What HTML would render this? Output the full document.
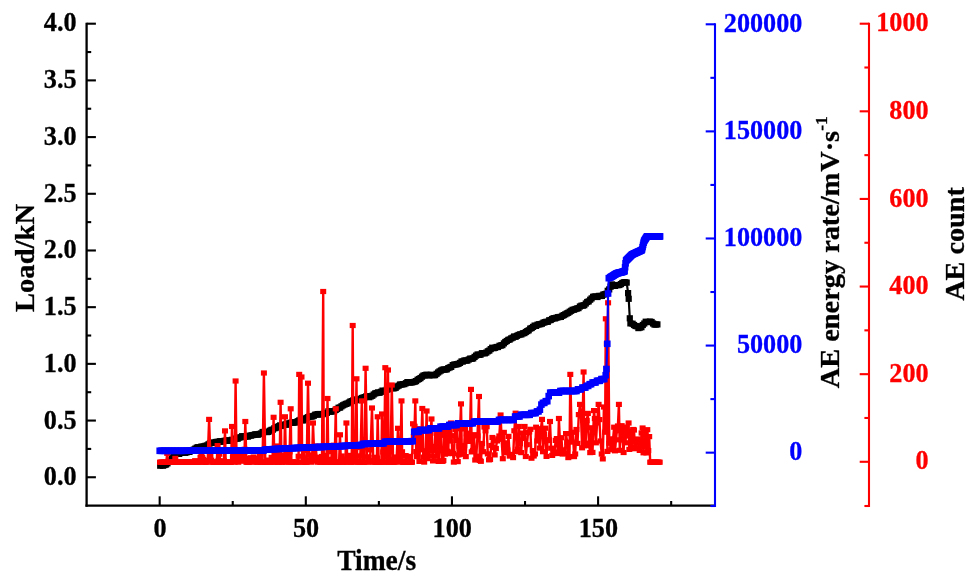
<!DOCTYPE html>
<html><head><meta charset="utf-8"><title>Load / AE energy rate / AE count vs Time</title>
<style>html,body{margin:0;padding:0;background:#fff}svg{display:block;will-change:transform}text{font-family:"Liberation Serif","Times New Roman",serif;font-weight:bold}</style></head><body>
<svg width="969" height="578" viewBox="0 0 969 578">
<rect width="969" height="578" fill="#fff"/>
<defs>
<marker id="mk" markerUnits="userSpaceOnUse" markerWidth="8" markerHeight="8" refX="4" refY="4"><rect x="0.90" y="0.90" width="6.2" height="6.2" fill="#000"/></marker>
<marker id="mr" markerUnits="userSpaceOnUse" markerWidth="8" markerHeight="8" refX="4" refY="4"><rect x="1.00" y="1.40" width="6.0" height="5.2" fill="#f00"/></marker>
<marker id="mb" markerUnits="userSpaceOnUse" markerWidth="8" markerHeight="8" refX="4" refY="4"><rect x="0.70" y="0.70" width="6.6" height="6.6" fill="#00f"/></marker>
</defs>
<g><line x1="86.60" y1="22.65" x2="86.60" y2="506.65" stroke="#000" stroke-width="2.3"/><line x1="86.60" y1="477.25" x2="95.90" y2="477.25" stroke="#000" stroke-width="2.1"/><line x1="86.60" y1="448.91" x2="91.20" y2="448.91" stroke="#000" stroke-width="2.1"/><line x1="86.60" y1="420.56" x2="95.90" y2="420.56" stroke="#000" stroke-width="2.1"/><line x1="86.60" y1="392.21" x2="91.20" y2="392.21" stroke="#000" stroke-width="2.1"/><line x1="86.60" y1="363.86" x2="95.90" y2="363.86" stroke="#000" stroke-width="2.1"/><line x1="86.60" y1="335.52" x2="91.20" y2="335.52" stroke="#000" stroke-width="2.1"/><line x1="86.60" y1="307.17" x2="95.90" y2="307.17" stroke="#000" stroke-width="2.1"/><line x1="86.60" y1="278.82" x2="91.20" y2="278.82" stroke="#000" stroke-width="2.1"/><line x1="86.60" y1="250.48" x2="95.90" y2="250.48" stroke="#000" stroke-width="2.1"/><line x1="86.60" y1="222.13" x2="91.20" y2="222.13" stroke="#000" stroke-width="2.1"/><line x1="86.60" y1="193.78" x2="95.90" y2="193.78" stroke="#000" stroke-width="2.1"/><line x1="86.60" y1="165.44" x2="91.20" y2="165.44" stroke="#000" stroke-width="2.1"/><line x1="86.60" y1="137.09" x2="95.90" y2="137.09" stroke="#000" stroke-width="2.1"/><line x1="86.60" y1="108.74" x2="91.20" y2="108.74" stroke="#000" stroke-width="2.1"/><line x1="86.60" y1="80.39" x2="95.90" y2="80.39" stroke="#000" stroke-width="2.1"/><line x1="86.60" y1="52.05" x2="91.20" y2="52.05" stroke="#000" stroke-width="2.1"/><line x1="86.60" y1="23.70" x2="95.90" y2="23.70" stroke="#000" stroke-width="2.1"/><line x1="85.50" y1="505.60" x2="715.00" y2="505.60" stroke="#000" stroke-width="2.1"/><line x1="159.67" y1="505.60" x2="159.67" y2="496.30" stroke="#000" stroke-width="2.1"/><line x1="232.74" y1="505.60" x2="232.74" y2="501.00" stroke="#000" stroke-width="2.1"/><line x1="305.81" y1="505.60" x2="305.81" y2="496.30" stroke="#000" stroke-width="2.1"/><line x1="378.88" y1="505.60" x2="378.88" y2="501.00" stroke="#000" stroke-width="2.1"/><line x1="451.95" y1="505.60" x2="451.95" y2="496.30" stroke="#000" stroke-width="2.1"/><line x1="525.02" y1="505.60" x2="525.02" y2="501.00" stroke="#000" stroke-width="2.1"/><line x1="598.09" y1="505.60" x2="598.09" y2="496.30" stroke="#000" stroke-width="2.1"/><line x1="671.16" y1="505.60" x2="671.16" y2="501.00" stroke="#000" stroke-width="2.1"/><line x1="715.00" y1="23.25" x2="715.00" y2="507.05" stroke="#00f" stroke-width="2.1"/><line x1="715.00" y1="506.00" x2="710.40" y2="506.00" stroke="#00f" stroke-width="2.1"/><line x1="715.00" y1="452.66" x2="705.70" y2="452.66" stroke="#00f" stroke-width="2.1"/><line x1="715.00" y1="399.11" x2="710.40" y2="399.11" stroke="#00f" stroke-width="2.1"/><line x1="715.00" y1="345.57" x2="705.70" y2="345.57" stroke="#00f" stroke-width="2.1"/><line x1="715.00" y1="292.02" x2="710.40" y2="292.02" stroke="#00f" stroke-width="2.1"/><line x1="715.00" y1="238.48" x2="705.70" y2="238.48" stroke="#00f" stroke-width="2.1"/><line x1="715.00" y1="184.93" x2="710.40" y2="184.93" stroke="#00f" stroke-width="2.1"/><line x1="715.00" y1="131.39" x2="705.70" y2="131.39" stroke="#00f" stroke-width="2.1"/><line x1="715.00" y1="77.84" x2="710.40" y2="77.84" stroke="#00f" stroke-width="2.1"/><line x1="715.00" y1="24.30" x2="705.70" y2="24.30" stroke="#00f" stroke-width="2.1"/><line x1="869.00" y1="22.65" x2="869.00" y2="507.05" stroke="#f00" stroke-width="2.1"/><line x1="869.00" y1="506.00" x2="864.40" y2="506.00" stroke="#f00" stroke-width="2.1"/><line x1="869.00" y1="461.79" x2="859.70" y2="461.79" stroke="#f00" stroke-width="2.1"/><line x1="869.00" y1="417.98" x2="864.40" y2="417.98" stroke="#f00" stroke-width="2.1"/><line x1="869.00" y1="374.17" x2="859.70" y2="374.17" stroke="#f00" stroke-width="2.1"/><line x1="869.00" y1="330.36" x2="864.40" y2="330.36" stroke="#f00" stroke-width="2.1"/><line x1="869.00" y1="286.55" x2="859.70" y2="286.55" stroke="#f00" stroke-width="2.1"/><line x1="869.00" y1="242.75" x2="864.40" y2="242.75" stroke="#f00" stroke-width="2.1"/><line x1="869.00" y1="198.94" x2="859.70" y2="198.94" stroke="#f00" stroke-width="2.1"/><line x1="869.00" y1="155.13" x2="864.40" y2="155.13" stroke="#f00" stroke-width="2.1"/><line x1="869.00" y1="111.32" x2="859.70" y2="111.32" stroke="#f00" stroke-width="2.1"/><line x1="869.00" y1="67.51" x2="864.40" y2="67.51" stroke="#f00" stroke-width="2.1"/><line x1="869.00" y1="23.70" x2="859.70" y2="23.70" stroke="#f00" stroke-width="2.1"/></g>
<text transform="translate(76.60,485.25) scale(1,1.06)" text-anchor="end" font-size="26.2" fill="#000" stroke="#000" stroke-width="0.3">0.0</text><text transform="translate(76.60,428.56) scale(1,1.06)" text-anchor="end" font-size="26.2" fill="#000" stroke="#000" stroke-width="0.3">0.5</text><text transform="translate(76.60,371.86) scale(1,1.06)" text-anchor="end" font-size="26.2" fill="#000" stroke="#000" stroke-width="0.3">1.0</text><text transform="translate(76.60,315.17) scale(1,1.06)" text-anchor="end" font-size="26.2" fill="#000" stroke="#000" stroke-width="0.3">1.5</text><text transform="translate(76.60,258.48) scale(1,1.06)" text-anchor="end" font-size="26.2" fill="#000" stroke="#000" stroke-width="0.3">2.0</text><text transform="translate(76.60,201.78) scale(1,1.06)" text-anchor="end" font-size="26.2" fill="#000" stroke="#000" stroke-width="0.3">2.5</text><text transform="translate(76.60,145.09) scale(1,1.06)" text-anchor="end" font-size="26.2" fill="#000" stroke="#000" stroke-width="0.3">3.0</text><text transform="translate(76.60,88.39) scale(1,1.06)" text-anchor="end" font-size="26.2" fill="#000" stroke="#000" stroke-width="0.3">3.5</text><text transform="translate(76.60,30.90) scale(1,1.06)" text-anchor="end" font-size="26.2" fill="#000" stroke="#000" stroke-width="0.3">4.0</text><text transform="translate(159.97,537.20) scale(1,1.06)" text-anchor="middle" font-size="26.2" fill="#000" stroke="#000" stroke-width="0.3">0</text><text transform="translate(306.11,537.20) scale(1,1.06)" text-anchor="middle" font-size="26.2" fill="#000" stroke="#000" stroke-width="0.3">50</text><text transform="translate(452.25,537.20) scale(1,1.06)" text-anchor="middle" font-size="26.2" fill="#000" stroke="#000" stroke-width="0.3">100</text><text transform="translate(598.39,537.20) scale(1,1.06)" text-anchor="middle" font-size="26.2" fill="#000" stroke="#000" stroke-width="0.3">150</text><text transform="translate(802.40,460.26) scale(1,1.06)" text-anchor="end" font-size="26.2" fill="#00f" stroke="#00f" stroke-width="0.3">0</text><text transform="translate(802.40,353.17) scale(1,1.06)" text-anchor="end" font-size="26.2" fill="#00f" stroke="#00f" stroke-width="0.3">50000</text><text transform="translate(802.40,246.08) scale(1,1.06)" text-anchor="end" font-size="26.2" fill="#00f" stroke="#00f" stroke-width="0.3">100000</text><text transform="translate(802.40,138.99) scale(1,1.06)" text-anchor="end" font-size="26.2" fill="#00f" stroke="#00f" stroke-width="0.3">150000</text><text transform="translate(802.40,31.90) scale(1,1.06)" text-anchor="end" font-size="26.2" fill="#00f" stroke="#00f" stroke-width="0.3">200000</text><text transform="translate(928.60,469.39) scale(1,1.06)" text-anchor="end" font-size="26.2" fill="#f00" stroke="#f00" stroke-width="0.3">0</text><text transform="translate(928.60,381.77) scale(1,1.06)" text-anchor="end" font-size="26.2" fill="#f00" stroke="#f00" stroke-width="0.3">200</text><text transform="translate(928.60,294.15) scale(1,1.06)" text-anchor="end" font-size="26.2" fill="#f00" stroke="#f00" stroke-width="0.3">400</text><text transform="translate(928.60,206.54) scale(1,1.06)" text-anchor="end" font-size="26.2" fill="#f00" stroke="#f00" stroke-width="0.3">600</text><text transform="translate(928.60,118.92) scale(1,1.06)" text-anchor="end" font-size="26.2" fill="#f00" stroke="#f00" stroke-width="0.3">800</text><text transform="translate(928.60,31.30) scale(1,1.06)" text-anchor="end" font-size="26.2" fill="#f00" stroke="#f00" stroke-width="0.3">1000</text><text transform="translate(376.7,570.4) scale(1,1.07)" text-anchor="middle" font-size="27.5" stroke="#000" stroke-width="0.3">Time/s</text><text transform="translate(34.4,258) rotate(-90) scale(1.04,1)" text-anchor="middle" font-size="27.5" stroke="#000" stroke-width="0.3">Load/kN</text><text transform="translate(839.2,252.2) rotate(-90) scale(1.03,1)" text-anchor="middle" font-size="27.5" stroke="#000" stroke-width="0.3">AE energy rate/m<tspan dx="0.9">V</tspan>·s<tspan dy="-12" font-size="17">-1</tspan></text><text transform="translate(963.5,244.0) rotate(-90) scale(1.025,1.02)" text-anchor="middle" font-size="27.5" stroke="#000" stroke-width="0.3">AE count</text>
<polyline points="160.2,465.7 161.7,465.1 163.1,465.7 164.6,465.0 166.1,464.5 167.5,463.3 169.0,461.5 170.4,460.6 171.9,458.1 173.4,456.6 174.8,454.3 176.3,453.4 177.8,453.4 179.2,453.9 180.7,452.9 182.1,452.2 183.6,452.3 185.1,452.8 186.5,452.4 188.0,451.6 189.5,451.9 190.9,450.4 192.4,450.6 193.8,449.6 195.3,448.6 196.8,447.6 198.2,447.2 199.7,447.6 201.2,446.7 202.6,446.6 204.1,446.5 205.5,445.8 207.0,445.5 208.5,444.3 209.9,443.3 211.4,442.7 212.9,443.0 214.3,442.6 215.8,442.0 217.2,441.9 218.7,441.7 220.2,441.2 221.6,441.6 223.1,441.6 224.6,440.8 226.0,440.7 227.5,440.4 228.9,440.8 230.4,440.7 231.9,439.8 233.3,440.3 234.8,439.0 236.3,438.5 237.7,438.7 239.2,437.6 240.6,437.3 242.1,436.2 243.6,436.4 245.0,436.7 246.5,436.4 248.0,436.6 249.4,435.7 250.9,435.6 252.3,435.2 253.8,434.9 255.3,434.3 256.7,434.5 258.2,434.7 259.7,433.9 261.1,433.5 262.6,432.0 264.0,432.0 265.5,431.8 267.0,432.1 268.4,431.9 269.9,430.7 271.4,429.9 272.8,429.7 274.3,428.3 275.7,428.0 277.2,427.1 278.7,426.2 280.1,425.4 281.6,426.0 283.0,425.1 284.5,424.6 286.0,424.4 287.4,424.7 288.9,423.4 290.4,422.9 291.8,422.5 293.3,422.7 294.7,422.4 296.2,422.4 297.7,421.2 299.1,420.5 300.6,419.8 302.1,420.2 303.5,420.4 305.0,419.0 306.4,418.0 307.9,417.2 309.4,416.6 310.8,416.5 312.3,416.5 313.8,415.8 315.2,414.7 316.7,414.5 318.1,414.1 319.6,414.0 321.1,414.5 322.5,414.3 324.0,413.6 325.5,413.2 326.9,412.8 328.4,411.3 329.8,411.6 331.3,411.5 332.8,411.4 334.2,411.1 335.7,409.9 337.2,409.0 338.6,407.7 340.1,407.6 341.5,406.3 343.0,405.3 344.5,404.6 345.9,403.9 347.4,403.5 348.9,402.6 350.3,401.6 351.8,401.1 353.2,400.4 354.7,400.3 356.2,399.4 357.6,400.1 359.1,400.0 360.6,398.8 362.0,398.0 363.5,397.5 364.9,397.1 366.4,396.2 367.9,396.7 369.3,397.2 370.8,396.4 372.3,395.8 373.7,394.5 375.2,393.4 376.6,393.0 378.1,392.4 379.6,392.8 381.0,391.8 382.5,390.6 384.0,391.2 385.4,390.8 386.9,389.6 388.3,389.3 389.8,388.0 391.3,387.8 392.7,388.3 394.2,388.3 395.7,387.8 397.1,386.5 398.6,385.7 400.0,384.5 401.5,384.6 403.0,384.2 404.4,384.1 405.9,383.2 407.4,382.1 408.8,382.3 410.3,382.6 411.7,382.4 413.2,382.1 414.7,381.7 416.1,381.1 417.6,379.7 419.1,379.0 420.5,378.1 422.0,376.7 423.4,375.6 424.9,375.2 426.4,374.7 427.8,375.0 429.3,375.5 430.8,374.8 432.2,375.0 433.7,375.2 435.1,375.1 436.6,373.8 438.1,372.5 439.5,371.4 441.0,370.5 442.5,369.7 443.9,369.5 445.4,369.6 446.8,369.3 448.3,368.1 449.8,367.4 451.2,366.9 452.7,365.1 454.2,364.6 455.6,364.5 457.1,364.2 458.5,363.8 460.0,362.9 461.5,361.5 462.9,361.5 464.4,360.5 465.9,360.5 467.3,360.6 468.8,359.5 470.2,358.6 471.7,358.8 473.2,358.4 474.6,356.9 476.1,355.6 477.6,354.5 479.0,354.9 480.5,354.7 481.9,353.2 483.4,353.2 484.9,353.3 486.3,352.6 487.8,351.3 489.3,350.6 490.7,349.1 492.2,347.7 493.6,348.2 495.1,347.8 496.6,347.0 498.0,347.0 499.5,345.8 501.0,345.5 502.4,345.1 503.9,343.4 505.3,342.0 506.8,341.0 508.3,339.9 509.7,339.5 511.2,338.4 512.7,337.7 514.1,336.5 515.6,336.8 517.0,335.8 518.5,335.0 520.0,334.4 521.4,334.4 522.9,333.3 524.4,333.1 525.8,332.0 527.3,331.1 528.7,330.3 530.2,328.6 531.7,328.0 533.1,326.9 534.6,325.6 536.1,325.9 537.5,324.7 539.0,324.3 540.4,324.2 541.9,323.7 543.4,322.7 544.8,322.2 546.3,321.8 547.8,321.8 549.2,320.3 550.7,320.0 552.1,319.0 553.6,318.2 555.1,318.4 556.5,317.7 558.0,317.2 559.5,317.0 560.9,316.9 562.4,315.8 563.8,315.1 565.3,314.3 566.8,313.4 568.2,312.8 569.7,311.7 571.2,310.8 572.6,309.8 574.1,309.7 575.5,309.0 577.0,308.5 578.5,308.1 579.9,306.5 581.4,305.7 582.9,305.6 584.3,305.2 585.8,303.5 587.2,302.0 588.7,301.4 590.2,299.7 591.6,298.4 593.1,296.8 594.6,296.5 596.0,296.6 597.5,297.0 598.9,295.9 600.4,296.0 601.9,295.9 603.3,294.6 604.8,294.2 606.3,293.8 607.7,290.8 609.2,289.4 610.6,286.7 612.1,284.4 613.6,285.4 615.0,285.9 616.5,285.1 618.0,285.1 619.4,285.0 620.9,284.1 622.3,283.0 623.8,282.3 625.3,282.3 626.7,282.6 628.1,293.1 628.7,298.8 629.8,318.3 630.4,323.4 632.6,323.7 634.0,325.0 635.5,326.0 637.0,326.2 638.4,328.1 639.9,327.5 641.4,327.2 642.8,325.0 644.3,323.5 645.7,321.7 647.2,322.1 648.7,321.9 650.1,321.6 651.6,322.0 653.1,323.5 654.5,324.6 656.0,324.5 657.4,324.4" fill="none" stroke="#000" stroke-width="2.2" marker-start="url(#mk)" marker-mid="url(#mk)" marker-end="url(#mk)"/>
<polyline points="160.0,462.2 160.9,462.2 161.8,462.2 162.7,462.2 163.6,462.2 164.5,462.2 165.4,462.2 166.3,462.2 167.2,453.3 168.1,462.2 169.0,462.2 169.9,462.2 170.8,462.2 171.7,462.2 172.6,462.2 173.5,462.2 174.4,462.2 175.3,458.4 176.2,462.2 177.1,462.2 178.0,462.2 178.9,462.2 179.8,462.2 180.7,462.2 181.6,462.2 182.5,462.2 183.4,462.2 184.3,462.2 185.2,462.2 186.1,462.2 187.0,462.2 187.9,462.2 188.8,462.2 189.7,462.2 190.6,462.2 191.5,462.2 192.4,462.2 193.3,462.2 194.2,462.2 195.1,460.7 196.0,462.2 196.9,462.2 197.8,462.2 198.7,462.2 199.6,462.2 200.5,457.4 201.4,453.7 202.3,457.3 203.2,459.4 204.1,462.2 205.0,462.2 205.9,462.2 206.8,462.2 207.7,460.4 209.1,419.4 210.4,456.1 211.3,460.2 212.2,462.2 213.1,462.2 214.0,462.2 214.9,462.2 215.8,462.2 216.7,462.2 217.6,445.6 218.5,460.5 219.4,454.2 220.3,462.2 221.2,462.2 222.1,462.2 223.0,462.2 223.9,460.8 225.0,430.9 225.7,462.2 226.6,462.2 227.5,462.2 228.4,462.2 229.3,462.2 230.2,462.2 231.1,462.2 232.0,426.5 232.9,457.6 233.8,456.0 234.7,462.2 235.6,381.0 236.5,456.3 237.4,457.7 238.3,462.2 239.2,456.0 240.1,457.1 241.0,461.2 241.9,458.7 242.8,456.6 243.7,458.1 244.6,449.3 245.3,421.5 246.4,462.2 247.3,462.2 248.2,462.2 249.1,462.2 250.0,458.3 250.9,457.8 251.8,458.8 252.7,462.2 253.6,457.0 254.5,458.5 255.4,461.7 256.3,460.4 257.2,462.2 258.1,462.2 259.0,460.8 259.9,455.4 260.8,462.2 261.7,462.2 262.6,462.2 263.9,373.0 265.3,462.2 266.2,462.2 267.1,462.2 268.0,460.1 268.9,462.1 269.8,462.2 270.7,462.2 271.6,457.4 272.5,460.2 273.6,417.3 274.3,462.2 275.2,462.2 276.1,455.6 277.0,446.0 277.9,462.2 278.8,462.2 279.7,455.4 280.6,402.3 281.5,462.2 282.4,462.2 283.3,455.5 284.2,461.2 285.0,416.8 286.0,462.2 286.9,458.6 287.8,449.1 288.7,462.2 289.6,451.9 290.7,408.8 291.4,462.2 292.3,462.2 293.2,462.2 294.1,462.2 295.0,462.2 295.9,462.2 296.8,462.2 297.7,462.2 298.6,456.3 299.2,374.4 300.4,448.9 301.5,377.0 302.2,462.2 303.1,462.2 304.0,450.5 304.9,462.2 305.8,462.2 306.7,462.2 308.0,383.2 309.4,460.2 310.3,455.0 311.2,462.2 312.1,460.9 313.0,423.0 313.9,446.7 314.8,457.8 315.7,446.0 316.6,457.2 317.5,462.2 318.4,459.0 319.3,457.7 320.2,462.2 321.1,462.2 322.0,456.5 323.2,291.5 323.8,462.2 324.7,462.2 325.6,455.4 326.5,462.2 327.5,398.5 328.3,459.4 329.2,462.2 330.1,462.2 331.0,462.2 331.9,451.7 332.8,462.2 333.7,445.2 334.6,462.2 335.8,408.8 336.4,462.2 337.3,462.2 338.2,462.2 339.1,462.2 340.0,434.8 340.9,462.2 341.8,456.0 342.7,459.3 343.6,462.2 344.5,459.6 345.4,462.2 346.4,423.0 347.2,462.2 348.1,456.6 349.0,457.8 349.9,455.4 350.8,462.2 351.7,462.2 352.7,325.5 353.5,462.2 354.4,447.2 355.3,457.9 356.5,378.8 357.1,455.9 358.0,462.2 358.9,462.2 359.8,462.2 360.7,447.5 361.8,400.9 362.5,462.2 363.4,462.2 364.3,462.2 365.6,368.3 367.0,456.8 367.9,462.2 368.8,461.9 369.7,460.6 370.6,449.8 372.0,408.0 373.3,462.2 374.2,457.3 375.1,462.2 376.0,462.2 376.9,458.1 377.7,416.8 378.7,462.2 379.6,462.1 380.5,462.2 381.4,462.2 382.0,414.0 383.2,452.0 384.1,462.2 385.3,367.7 385.9,449.0 386.8,462.2 388.0,370.0 388.6,462.2 389.5,459.3 390.4,462.2 391.8,385.0 393.1,462.2 394.0,462.2 394.9,462.2 395.8,460.8 396.7,457.0 398.0,428.3 399.4,460.6 400.3,462.2 401.5,400.9 402.1,451.8 403.0,462.2 403.9,462.2 404.8,462.2 405.7,455.6 406.6,462.2 407.5,462.2 408.4,462.2 409.3,456.4 410.2,462.2 411.1,462.2 412.0,462.2 413.0,423.8 413.8,436.6 414.6,426.3 415.3,400.9 416.2,451.6 417.0,456.6 417.8,428.7 418.6,436.1 419.4,461.4 420.2,439.2 421.0,449.8 422.3,408.5 423.4,457.1 424.2,462.1 425.0,453.3 425.8,450.8 426.6,411.0 427.4,458.6 428.2,427.6 429.0,455.8 429.8,450.6 430.6,433.2 431.5,419.0 432.2,447.9 433.0,460.9 433.8,446.4 434.6,450.0 435.4,429.4 436.2,456.3 437.0,450.3 437.8,430.3 438.6,461.4 439.4,448.7 440.2,433.6 441.0,435.3 441.8,461.1 442.6,461.3 443.4,460.5 444.2,429.4 445.0,454.1 445.8,436.1 446.6,430.2 447.4,451.2 448.2,453.6 449.0,427.9 449.8,441.0 451.0,423.0 452.2,452.0 453.0,453.5 453.8,462.1 454.6,435.7 455.4,429.5 456.2,440.4 457.0,428.4 457.8,461.6 458.6,454.9 459.4,446.3 460.2,427.9 461.0,403.9 461.8,449.5 462.6,454.3 463.4,448.0 464.2,445.6 465.0,429.0 465.8,456.6 466.6,433.9 467.4,436.4 468.2,433.2 469.0,435.1 469.8,441.4 471.0,389.4 471.7,451.9 472.9,450.4 474.0,434.7 475.2,460.0 476.3,456.2 477.5,435.9 479.0,396.5 479.8,460.4 480.9,461.3 482.1,443.5 483.2,451.7 484.4,427.0 485.5,430.8 486.7,426.7 487.8,453.9 489.0,459.8 490.1,459.5 491.3,445.5 492.4,437.5 493.6,447.4 494.7,454.9 495.9,448.5 497.0,440.9 498.2,438.9 499.3,436.0 500.6,415.0 501.6,439.2 502.8,458.7 503.9,432.4 505.1,452.8 506.2,442.9 507.4,450.0 508.5,436.4 509.7,456.1 510.8,454.5 512.0,454.5 513.1,457.6 514.3,430.8 515.6,413.2 516.6,451.7 517.7,449.2 518.9,426.5 520.0,443.6 521.2,452.6 522.3,433.1 523.5,438.5 524.6,426.5 525.8,456.5 526.9,444.7 528.1,432.7 529.2,431.9 530.4,429.3 531.5,458.2 532.7,450.6 533.8,456.0 535.0,453.9 536.1,427.2 537.3,441.0 538.4,428.7 539.6,448.1 540.7,431.0 542.0,419.4 543.0,451.7 544.2,434.2 545.3,428.2 546.5,456.4 547.6,440.5 548.8,439.7 550.0,421.5 551.1,448.2 552.2,455.4 553.4,453.5 554.5,451.9 555.7,440.4 556.8,438.6 558.0,453.5 558.9,418.5 560.3,449.5 561.4,437.7 562.6,454.0 563.7,450.0 564.9,453.5 566.0,433.6 567.2,442.2 568.3,457.6 569.5,456.5 570.3,374.4 571.8,442.1 572.9,432.3 574.1,456.6 575.2,454.0 576.4,429.5 577.5,443.4 578.8,414.6 580.0,404.4 581.0,415.8 582.1,447.8 583.6,372.0 584.4,445.8 585.6,443.1 586.7,420.6 587.9,413.4 589.0,445.5 590.2,452.6 591.3,427.8 592.5,452.4 594.0,410.6 594.8,418.6 595.9,442.8 597.1,422.9 598.6,404.4 599.4,419.6 600.5,441.0 601.7,454.0 602.8,458.9 603.9,407.0 605.1,432.2 605.8,318.8 606.8,343.8 607.4,451.4 608.1,302.8 609.3,443.2 610.3,439.4 611.2,449.8 612.2,445.8 613.1,438.9 614.1,427.2 615.0,450.8 616.0,439.8 616.9,430.7 617.9,426.0 618.9,404.4 619.8,450.3 620.7,426.7 621.7,425.7 622.6,440.0 623.6,452.5 624.5,427.1 625.5,442.8 626.4,427.8 627.4,436.0 628.6,423.0 629.3,449.4 630.2,431.2 631.2,447.6 632.1,442.3 633.1,429.5 634.0,430.0 635.0,448.7 635.9,447.7 636.9,442.4 637.8,439.0 638.8,442.9 639.7,450.4 640.7,446.8 641.6,433.0 642.6,428.0 643.5,452.8 644.5,437.7 645.4,432.0 646.4,452.9 647.3,429.7 648.3,450.6 649.2,436.6 650.2,462.2 651.1,462.2 652.1,462.2 653.0,462.2 654.0,462.2 654.9,462.2 655.9,462.2 656.8,462.2 657.8,462.2 658.7,462.2 659.7,462.2" fill="none" stroke="#f00" stroke-width="2.4" stroke-linejoin="round" marker-start="url(#mr)" marker-mid="url(#mr)" marker-end="url(#mr)"/>
<polyline points="159.7,450.8 161.2,450.8 162.6,450.8 164.1,450.8 165.6,450.8 167.0,450.8 168.5,450.8 169.9,450.8 171.4,450.8 172.9,450.8 174.3,450.8 175.8,450.8 177.3,450.8 178.7,450.8 180.2,450.8 181.6,450.8 183.1,450.8 184.6,450.8 186.0,450.7 187.5,450.7 189.0,450.7 190.4,450.7 191.9,450.7 193.3,450.7 194.8,450.7 196.3,450.7 197.7,450.7 199.2,450.7 200.7,450.7 202.1,450.7 203.6,450.7 205.0,450.7 206.5,450.7 208.0,450.7 209.4,450.7 210.9,450.7 212.4,450.7 213.8,450.7 215.3,450.7 216.7,450.7 218.2,450.7 219.7,450.7 221.1,450.7 222.6,450.7 224.1,450.7 225.5,450.7 227.0,450.7 228.4,450.7 229.9,450.7 231.4,450.7 232.8,450.7 234.3,450.7 235.8,450.7 237.2,450.7 238.7,450.6 240.1,450.6 241.6,450.6 243.1,450.6 244.5,450.6 246.0,450.6 247.5,450.6 248.9,450.6 250.4,450.6 251.8,450.6 253.3,450.6 254.8,450.6 256.2,450.6 257.7,450.6 259.2,450.6 260.6,450.6 262.1,450.6 263.5,450.6 265.0,449.6 266.5,449.5 267.9,449.4 269.4,449.4 270.9,449.3 272.3,449.2 273.8,449.1 275.2,449.1 276.7,449.0 278.2,448.9 279.6,448.8 281.1,448.8 282.5,448.7 284.0,448.6 285.5,448.5 286.9,448.5 288.4,448.4 289.9,448.3 291.3,448.2 292.8,448.2 294.2,448.1 295.7,448.0 297.2,447.9 298.6,447.9 300.1,447.8 301.6,447.7 303.0,447.7 304.5,447.6 305.9,447.6 307.4,447.5 308.9,447.4 310.3,447.4 311.8,447.3 313.3,447.3 314.7,447.2 316.2,447.2 317.6,447.1 319.1,447.0 320.6,447.0 322.0,446.9 323.5,446.9 325.0,446.8 326.4,446.7 327.9,446.7 329.3,446.6 330.8,446.6 332.3,446.5 333.7,446.5 335.2,446.4 336.7,446.3 338.1,446.3 339.6,446.2 341.0,446.1 342.5,446.1 344.0,446.0 345.4,445.9 346.9,445.8 348.4,445.7 349.8,445.7 351.3,445.6 352.7,445.5 354.2,445.4 355.7,445.3 357.1,445.3 358.6,445.2 360.1,445.1 361.5,445.0 363.0,443.9 364.4,443.9 365.9,443.8 367.4,443.8 368.8,443.8 370.3,443.7 371.8,443.7 373.2,443.7 374.7,443.6 376.1,443.6 377.6,443.6 379.1,443.5 380.5,443.5 382.0,443.4 383.5,443.4 384.9,441.8 386.4,441.7 387.8,441.6 389.3,441.6 390.8,441.6 392.2,441.6 393.7,441.5 395.2,441.5 396.6,441.5 398.1,441.5 399.5,441.4 401.0,441.4 402.5,441.4 403.9,441.4 405.4,441.3 406.9,441.3 408.3,441.3 409.8,441.3 411.2,441.2 412.7,441.2 414.2,431.8 415.6,431.8 417.1,431.8 418.6,431.8 420.0,430.1 421.5,430.1 422.9,430.1 424.4,430.1 425.9,430.1 427.3,430.1 428.8,430.1 430.3,428.4 431.7,428.4 433.2,428.4 434.6,428.4 436.1,428.4 437.6,428.4 439.0,428.4 440.5,426.7 442.0,426.7 443.4,426.7 444.9,426.7 446.3,426.7 447.8,426.7 449.3,425.0 450.7,425.0 452.2,425.0 453.7,425.0 455.1,425.0 456.6,425.0 458.0,423.3 459.5,423.3 461.0,423.3 462.4,423.3 463.9,423.3 465.4,423.3 466.8,423.3 468.3,423.3 469.7,423.3 471.2,423.3 472.7,423.3 474.1,421.6 475.6,421.6 477.1,421.6 478.5,421.6 480.0,421.6 481.4,421.6 482.9,421.6 484.4,421.6 485.8,421.6 487.3,421.6 488.8,421.6 490.2,421.6 491.7,421.6 493.1,421.6 494.6,421.6 496.1,421.6 497.5,421.6 499.0,419.9 500.5,419.9 501.9,419.9 503.4,419.9 504.8,419.9 506.3,419.9 507.8,419.9 509.2,419.9 510.7,419.9 512.2,419.9 513.6,419.9 515.1,416.5 516.5,416.5 518.0,416.5 519.5,416.5 520.9,414.8 522.4,414.8 523.9,414.8 525.3,414.8 526.8,414.8 528.2,414.8 529.7,414.8 531.2,413.1 532.6,413.1 534.1,413.1 535.6,413.1 537.0,411.4 538.5,411.4 539.9,409.7 541.4,404.6 542.9,402.9 544.3,402.9 545.8,401.2 547.3,401.2 548.7,396.1 550.2,392.7 551.6,392.7 553.1,392.7 554.6,392.7 556.0,392.7 557.5,392.7 559.0,392.7 560.4,391.0 561.9,391.0 563.3,391.0 564.8,391.0 566.3,391.0 567.7,391.0 569.2,391.0 570.7,391.0 572.1,391.0 573.6,391.0 575.0,391.0 576.5,391.0 578.0,389.3 579.4,389.3 580.9,389.3 582.4,387.6 583.8,387.6 585.3,387.6 586.7,385.9 588.2,385.9 589.7,384.2 591.1,384.2 592.6,382.5 594.1,382.5 595.5,382.5 597.0,380.8 598.4,380.8 599.9,380.8 601.4,379.1 602.8,379.1 604.3,379.1 605.7,375.2 606.4,369.0 607.3,343.8 608.1,293.5 608.8,278.2 610.1,277.5 610.6,277.2 611.1,276.9 611.6,276.6 612.1,276.3 612.6,276.0 613.1,275.7 613.6,275.4 614.1,275.0 614.6,274.7 615.1,274.4 615.6,274.1 616.1,273.8 616.6,273.5 617.1,273.3 617.6,273.1 618.1,273.0 618.6,272.9 619.1,272.8 619.6,272.6 620.1,272.5 620.6,272.4 621.1,272.3 621.6,272.1 622.1,272.0 622.6,271.9 623.1,271.8 623.6,271.6 624.1,271.5 624.6,271.0 625.1,267.2 625.6,263.3 626.1,260.5 626.6,260.0 627.1,259.5 627.6,259.0 628.1,258.5 628.6,258.0 629.1,257.5 629.6,257.0 630.1,256.5 630.6,256.0 631.1,255.5 631.6,255.0 632.1,254.5 632.6,254.3 633.1,254.1 633.6,253.8 634.1,253.6 634.6,253.4 635.1,253.2 635.6,252.9 636.1,252.7 636.6,252.5 637.1,252.2 637.6,252.0 638.1,251.8 638.6,251.5 639.1,251.3 639.6,251.1 640.1,250.9 640.6,250.6 641.1,250.4 641.6,250.2 642.1,249.3 642.6,247.1 643.1,244.9 643.6,242.7 644.1,241.0 644.6,240.2 645.1,239.4 645.6,238.6 646.1,237.8 646.6,237.0 647.1,236.4 647.6,236.4 648.1,236.4 648.6,236.4 649.1,236.4 649.6,236.4 650.1,236.4 650.6,236.4 651.1,236.4 651.6,236.4 652.1,236.4 652.6,236.4 653.1,236.4 653.6,236.4 654.1,236.4 654.6,236.4 655.1,236.4 655.6,236.4 656.1,236.4 656.6,236.4 657.1,236.4 657.6,236.4 658.1,236.4 658.6,236.4 659.1,236.4 659.6,236.4 660.1,236.4" fill="none" stroke="#00f" stroke-width="2.2" marker-start="url(#mb)" marker-mid="url(#mb)" marker-end="url(#mb)"/>
</svg></body></html>
